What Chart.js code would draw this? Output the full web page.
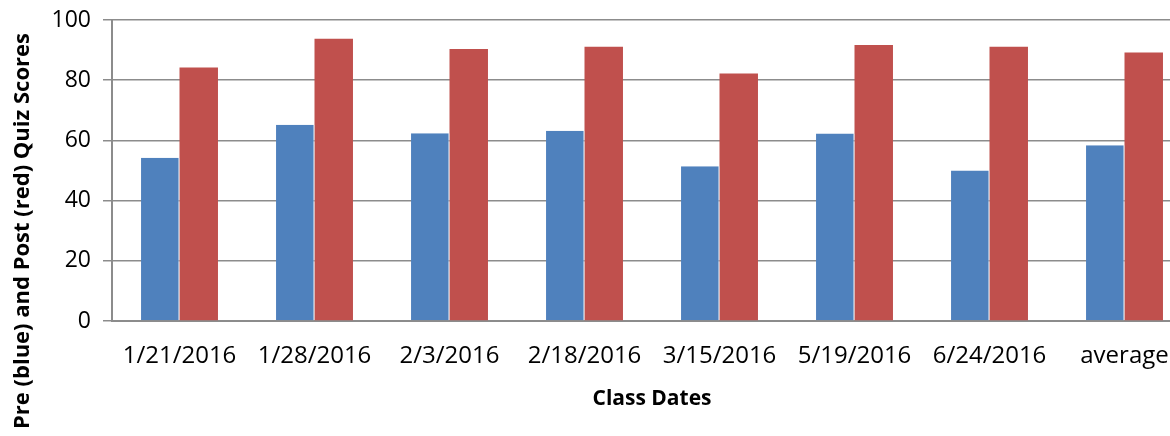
<!DOCTYPE html>
<html lang="en">
  <head>
    <meta charset="UTF-8" />
    <title>Quiz Scores</title>
    <script src="https://cdn.jsdelivr.net/npm/chart.js"></script>
    <style>
      html, body { margin: 0; padding: 0; background: #fff; overflow: hidden; }
      #wrap { width: 1200px; height: 436px; }
    </style>
  </head>
  <body>
    <div id="wrap"><canvas id="myChart" width="1200" height="436"></canvas></div>

    <script>
      const classDates = ["1/21/2016", "1/28/2016", "2/3/2016", "2/18/2016", "3/15/2016", "5/19/2016", "6/24/2016", "average"];
      const preScores = [54.2, 65.2, 62.4, 63.2, 51.4, 62.3, 50.0, 58.4];
      const postScores = [84.2, 93.8, 90.4, 91.1, 82.2, 91.7, 91.1, 89.2];
      const yTicks = [0, 20, 40, 60, 80, 100];

      const font = "'Open Sans', 'Noto Sans', sans-serif";
      const gridColor = "#8c8c8c";

      // y title drawn by hand: it sits lower than the plot centre in the original
      const yTitle = {
        id: "yTitle",
        afterDraw(chart) {
          const ctx = chart.ctx;
          ctx.save();
          ctx.translate(23, 231);
          ctx.rotate(-Math.PI / 2);
          ctx.font = "bold 22px " + font;
          ctx.fillStyle = "#000";
          ctx.textAlign = "center";
          ctx.textBaseline = "middle";
          ctx.fillText("Pre (blue) and Post (red) Quiz Scores", 0, 0);
          ctx.restore();
        },
      };

      new Chart(document.getElementById("myChart").getContext("2d"), {
        type: "bar",
        data: {
          labels: classDates,
          datasets: [
            { label: "Pre", data: preScores, backgroundColor: "#4f81bd", borderColor: "#dfe6f0", borderWidth: { right: 1 } },
            { label: "Post", data: postScores, backgroundColor: "#c0504d", borderWidth: 0 },
          ],
        },
        options: {
          responsive: false,
          animation: false,
          layout: { padding: { top: 0, right: 8, bottom: 20, left: 0 } },
          plugins: { legend: { display: false }, tooltip: { enabled: false } },
          datasets: { bar: { categoryPercentage: 0.57, barPercentage: 1.0 } },
          scales: {
            x: {
              grid: { display: false },
              border: { color: gridColor, width: 2 },
              ticks: { color: "#000", font: { family: font, size: 24 }, padding: 13, maxRotation: 0 },
              title: { display: true, text: "Class Dates", color: "#000", font: { family: font, size: 21, weight: "bold" }, padding: { top: 3 } },
            },
            y: {
              min: 0,
              max: 100,
              afterFit: (scale) => { scale.width = 112; scale.paddingTop = 20; },
              afterBuildTicks: (scale) => { scale.ticks = yTicks.map((v) => ({ value: v })); },
              grid: { color: gridColor, lineWidth: 1.5, tickLength: 9, drawTicks: true },
              border: { color: gridColor, width: 2 },
              ticks: { color: "#000", font: { family: font, size: 23, lineHeight: 1 }, padding: 12 },
            },
          },
        },
        plugins: [yTitle],
      });
    </script>
  </body>
</html>
